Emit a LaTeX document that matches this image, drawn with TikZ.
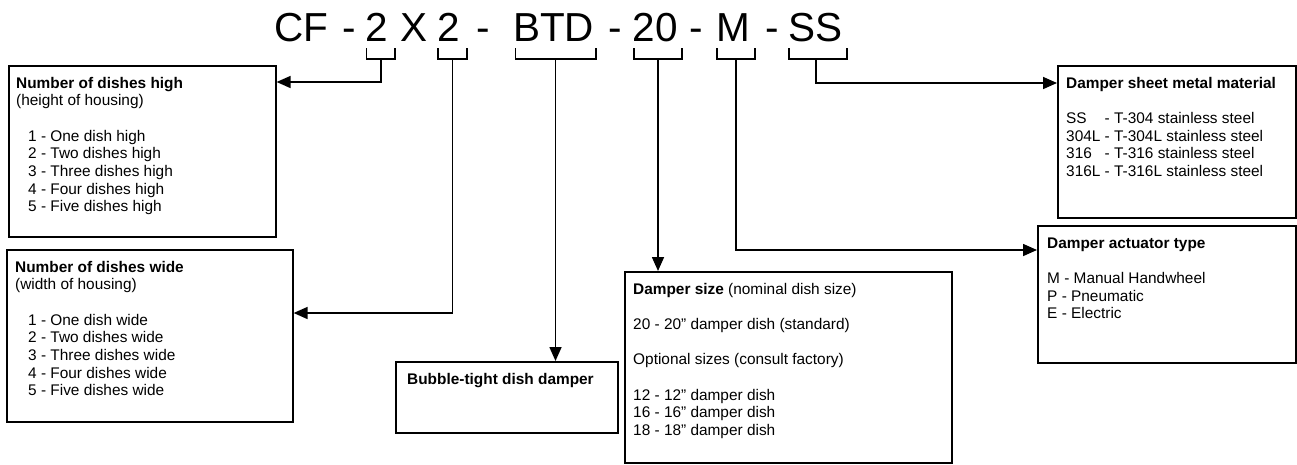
\documentclass[tikz,border=0pt]{standalone}
\usepackage{fontspec}
\setmainfont{Liberation Sans}
\usetikzlibrary{arrows.meta}
\tikzset{
  box/.style={draw, line width=1.6pt, inner sep=0pt, anchor=north west},
  txt/.style={anchor=base west, inner sep=0pt, font=\fontsize{15.4pt}{17.7pt}\selectfont},
  code/.style={anchor=base west, inner sep=0pt, font=\fontsize{40.5pt}{44pt}\selectfont},
  conn/.style={line width=1.6pt, -{Triangle[length=14pt,width=12pt]}},
  brk/.style={line width=1.6pt},
}
\newcommand{\boxtext}[2]{\parbox[t]{#1}{\raggedright #2}}
\begin{document}
\begin{tikzpicture}[x=1pt,y=-1pt]
\useasboundingbox (0,0) rectangle (1297,464);

% title tokens
\node[code] (tCF) at (274,41) {CF};
\node[code] (d1) at (342,41) {-};
\node[code] (t2a) at (365.5,41) {2};
\node[code] (tX) at (400,41) {X};
\node[code] (t2b) at (437,41) {2};
\node[code] (d2) at (476,41) {-};
\node[code] (tBTD) at (513,41) {BTD};
\node[code] (d3) at (608,41) {-};
\node[code] (t20) at (632.5,41) {20};
\node[code] (d4) at (689.5,41) {-};
\node[code] (tM) at (716.5,41) {M};
\node[code] (d5) at (765,41) {-};
\node[code] (tSS) at (788.5,41) {SS};

% brackets
\draw[brk] (366.5,48) -- (366.5,59) -- (395,59) -- (395,48);
\draw[brk] (438,48) -- (438,59) -- (467,59) -- (467,48);
\draw[brk] (515.5,48) -- (515.5,59) -- (596,59) -- (596,48);
\draw[brk] (634,48) -- (634,59) -- (682,59) -- (682,48);
\draw[brk] (717,48) -- (717,59) -- (755,59) -- (755,48);
\draw[brk] (789,48) -- (789,59) -- (847,59) -- (847,48);
\coordinate (s1) at (381,59);
\coordinate (s2) at (452.5,59);
\coordinate (s3) at (555.5,59);
\coordinate (s4) at (658,59);
\coordinate (s5) at (736,59);
\coordinate (s6) at (816,59);

% boxes
\node[box, minimum width=267pt, minimum height=171pt] (b1) at (8,65) {};
\node[box, minimum width=286pt, minimum height=172pt] (b2) at (6,249) {};
\node[box, minimum width=222pt, minimum height=71pt] (b3) at (395,361) {};
\node[box, minimum width=327pt, minimum height=191pt] (b4) at (624,271) {};
\node[box, minimum width=238pt, minimum height=152pt] (b5) at (1057,65) {};
\node[box, minimum width=258pt, minimum height=137pt] (b6) at (1037,225) {};

% texts
\node[txt] (b1t) at (16,88) {\boxtext{250pt}{\textbf{Number of dishes high}\\(height of housing)\\[17.7pt]
\hspace*{12pt}1 - One dish high\\\hspace*{12pt}2 - Two dishes high\\\hspace*{12pt}3 - Three dishes high\\\hspace*{12pt}4 - Four dishes high\\\hspace*{12pt}5 - Five dishes high}};
\node[txt] (b2t) at (15,272) {\boxtext{270pt}{\textbf{Number of dishes wide}\\(width of housing)\\[17.7pt]
\hspace*{13pt}1 - One dish wide\\\hspace*{13pt}2 - Two dishes wide\\\hspace*{13pt}3 - Three dishes wide\\\hspace*{13pt}4 - Four dishes wide\\\hspace*{13pt}5 - Five dishes wide}};
\node[txt] (b3t) at (407,384) {\boxtext{205pt}{\textbf{Bubble-tight dish damper}}};
\node[txt] (b4t) at (633,294) {\boxtext{310pt}{\textbf{Damper size} (nominal dish size)\\[17.7pt]
20 - 20” damper dish (standard)\\[17.7pt]
Optional sizes (consult factory)\\[17.7pt]
12 - 12” damper dish\\16 - 16” damper dish\\18 - 18” damper dish}};
\node[txt] (b5t) at (1066,88) {\boxtext{225pt}{\textbf{Damper sheet metal material}\\[17.7pt]
\makebox[38.5pt][l]{SS}- T-304 stainless steel\\304L - T-304L stainless steel\\\makebox[38.5pt][l]{316}- T-316 stainless steel\\316L - T-316L stainless steel}};
\node[txt] (b6t) at (1047,248) {\boxtext{240pt}{\textbf{Damper actuator type}\\[17.7pt]
M - Manual Handwheel\\P - Pneumatic\\E - Electric}};

% connectors
\draw[conn] (s1) |- ([yshift=-17pt]b1.north east);
\draw[conn] (s2) |- ([yshift=-64pt]b2.north east);
\draw[conn] (s3) -- (s3 |- b3.north);
\draw[conn] (s4) -- (s4 |- b4.north);
\draw[conn] (s5) |- ([yshift=-25pt]b6.north west);
\draw[conn] (s6) |- ([yshift=-18pt]b5.north west);
\end{tikzpicture}
\end{document}
